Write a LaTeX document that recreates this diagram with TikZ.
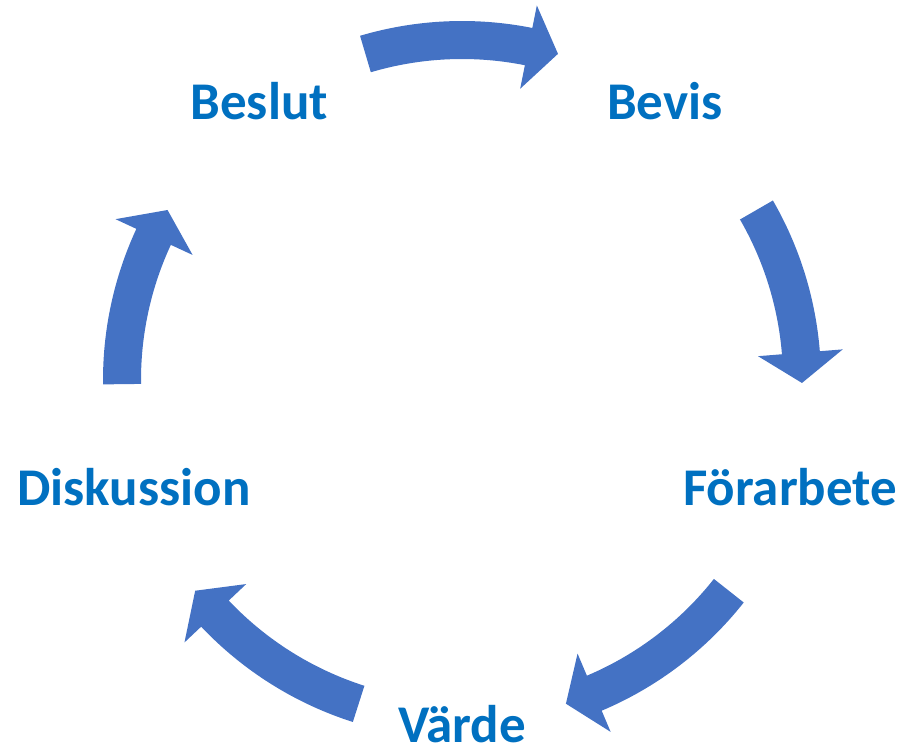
\documentclass[tikz,border=0pt]{standalone}
\usepackage{fontspec}
\setmainfont{Carlito}
\usetikzlibrary{positioning}

\definecolor{labelblue}{HTML}{0070C0}
\definecolor{arrowblue}{HTML}{4472C4}

\begin{document}
\begin{tikzpicture}[
    % Stage label style
    stage/.style={
        text=labelblue,
        font=\fontsize{53bp}{60bp}\selectfont\bfseries,
        inner sep=0pt
    },
    % Curved block arrow style
    cyclearrow/.style={
        fill=arrowblue,
        draw=none
    }
]
\useasboundingbox (-462bp,-368bp) rectangle (443bp,380bp);

% === Stages ===
\node[stage] (beslut) at (126:345bp) {Beslut};
\node[stage] (bevis) at (54:345bp) {Bevis};
\node[stage] (forarbete) at (-18:345bp) {Förarbete};
\node[stage] (varde) at ([yshift=1bp]-90:345bp) {Värde};
\node[stage] (diskussion) at (198:345bp) {Diskussion};

% === Curved arrows between stages (tail angle / tip angle) ===
\foreach \s/\e in {106.5/73.6, 30/-0.5, -38.3/-72.2, 252.3/218.3, 180.7/150} {
    \pgfmathsetmacro\h{\e+5.1}
    \fill[cyclearrow] (\s:359bp)
        arc[start angle=\s, end angle=\h, radius=359bp]
        -- (\h:382bp) -- (\e:340bp) -- (\h:297bp)
        -- (\h:321bp)
        arc[start angle=\h, end angle=\s, radius=321bp] -- cycle;
}

\end{tikzpicture}
\end{document}
